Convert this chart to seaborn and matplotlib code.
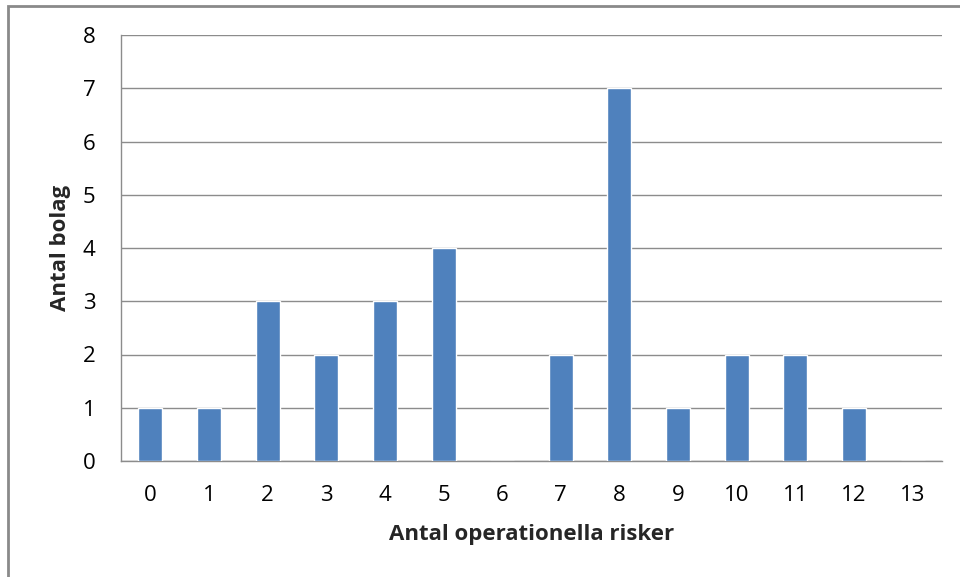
import matplotlib
matplotlib.use("Agg")
import matplotlib.pyplot as plt
import seaborn as sns
import pandas as pd
from matplotlib.patches import Rectangle

# Number of companies by number of operational risks reported
risks = list(range(14))
companies = [1, 1, 3, 2, 3, 4, 0, 2, 7, 1, 2, 2, 1, 0]
y_ticks = list(range(9))

df = pd.DataFrame({"risks": [str(r) for r in risks], "companies": companies})

sns.set_theme(style="white")
plt.rcParams["font.family"] = ["Open Sans", "DejaVu Sans"]

fig = plt.figure(figsize=(9.6, 5.77), dpi=100)
ax = fig.add_axes([121 / 960, 1 - 461 / 577, (942 - 121) / 960, (461 - 35) / 577])

sns.barplot(data=df, x="risks", y="companies", color="#4F81BD", saturation=1,
            width=0.41, ax=ax, zorder=3)

grid_c = "#8C8C8C"
ax.set_ylim(0, 8)
ax.set_xlim(-0.5, len(risks) - 0.5)
ax.set_yticks(y_ticks)
ax.set_yticklabels([str(t) for t in y_ticks], fontsize=16)
ax.yaxis.grid(True, color=grid_c, linewidth=1, zorder=0)
ax.set_axisbelow(True)

# category labels at centers, tick marks between categories
ax.set_xticks(risks)
ax.set_xticklabels([str(r) for r in risks], fontsize=16)
ax.tick_params(axis="x", which="major", length=0, pad=17)
ax.set_xticks([i - 0.5 for i in range(len(risks) + 1)], minor=True)
ax.tick_params(axis="x", which="minor", length=6, width=1, color=grid_c, direction="out")
ax.tick_params(axis="y", length=7.5, width=1, color=grid_c, direction="out", pad=11)
ax.tick_params(which="major", labelcolor="black")

for s in ["top", "right"]:
    ax.spines[s].set_visible(False)
for s in ["left", "bottom"]:
    ax.spines[s].set_color(grid_c)
    ax.spines[s].set_linewidth(1)

ax.set_xlabel("Antal operationella risker", fontsize=16, fontweight="bold", labelpad=13)
ax.set_ylabel("Antal bolag", fontsize=16, fontweight="bold", labelpad=8)

# chart frame
fig.patches.append(Rectangle((8 / 960, -0.1), 1.2, 1 - 6 / 577 + 0.1,
                             transform=fig.transFigure, fill=False,
                             edgecolor="#8A8A8A", linewidth=2))

fig.savefig("out.png", dpi=100)
